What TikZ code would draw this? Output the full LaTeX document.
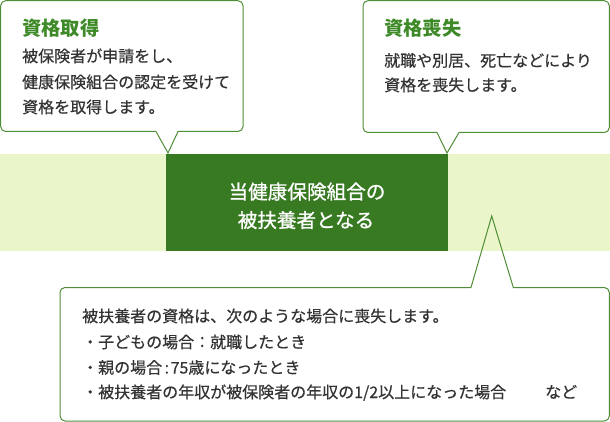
\documentclass[tikz,border=0pt]{standalone}
\usepackage{fontspec}
\newfontfamily\jp[FakeBold=0.5]{Noto Sans CJK JP}
\newfontfamily\jpc[FakeBold=0.9]{Noto Sans CJK JP}
\newfontfamily\jpt{Noto Sans CJK JP}
\definecolor{band}{HTML}{EAF6C9}
\definecolor{dkgreen}{HTML}{377A22}
\definecolor{lineg}{HTML}{4E8E36}
\definecolor{titleg}{HTML}{3F8A28}
\definecolor{txt}{HTML}{333333}
\tikzset{
  callout/.style={draw=lineg, line width=1pt, line join=miter},
  ttl/.style={anchor=base west, inner sep=0, text=titleg, font=\jpt\bfseries\fontsize{19.3}{22}\selectfont},
  body/.style={anchor=base west, inner sep=0, text=txt, font=\jp\fontsize{16}{20}\selectfont},
  ctext/.style={anchor=base, inner sep=0, text=white, font=\jpc\fontsize{19.6}{22}\selectfont},
  mainbox/.style={fill=dkgreen, draw=none, inner sep=0, minimum width=281.5pt, minimum height=97pt}
}
\begin{document}
\begin{tikzpicture}[x=1pt,y=-1pt]
\useasboundingbox (0,0) rectangle (610,422);
% band
\fill[band] (0,154) rectangle (610,251);
\node[mainbox] (main) at (306.75,202.5) {};
\node[ctext] (m1) at (307,199) {当健康保険組合の};
\node[ctext] (m2) at (306,227.5) {被扶養者となる};
% top-left callout
\coordinate (pA) at (168,153);
\draw[callout] (156,131.5) -- (pA) -- (178,131.5) [rounded corners=5] -- (243,131.5) -- (243,0.7) -- (0.7,0.7) -- (0.7,131.5) -- (156,131.5);
\node[ttl] (t1) at (22,36) {資格取得};
\node[body] (a1) at (22,62) {被保険者が申請をし、};
\node[body] (a2) at (22,88) {健康保険組合の認定を受けて};
\node[body] (a3) at (22,113) {資格を取得します。};
% top-right callout
\coordinate (pB) at (447,153);
\draw[callout] (437,132.5) -- (pB) -- (459,132.5) [rounded corners=5] -- (609.3,132.5) -- (609.3,0.7) -- (363,0.7) -- (363,132.5) -- (437,132.5);
\node[ttl] (t2) at (384,36) {資格喪失};
\node[body] (b1) at (384,66.5) {就職や別居、死亡などにより};
\node[body] (b2) at (384,91) {資格を喪失します。};
% bottom callout
\coordinate (pC) at (491.7,216);
\draw[callout] (471,287.5) -- (pC) -- (513.3,287.5) [rounded corners=5] -- (609.3,287.5) -- (609.3,421) -- (60,421) -- (60,287.5) -- (471,287.5);
\node[body] (c1) at (82,322) {被扶養者の資格は、次のような場合に喪失します。};
\node[body] (c2) at (82,348) {・子どもの場合：就職したとき};
\node[body] (c3) at (82,373.5) {・親の場合\hspace{2.5pt}:\hspace{1.5pt}75歳になったとき};
\node[body] (c4) at (82,398) {・被扶養者の年収が被保険者の年収の1/2以上になった場合};
\node[body] (c5) at (545,398) {など};
\end{tikzpicture}
\end{document}
